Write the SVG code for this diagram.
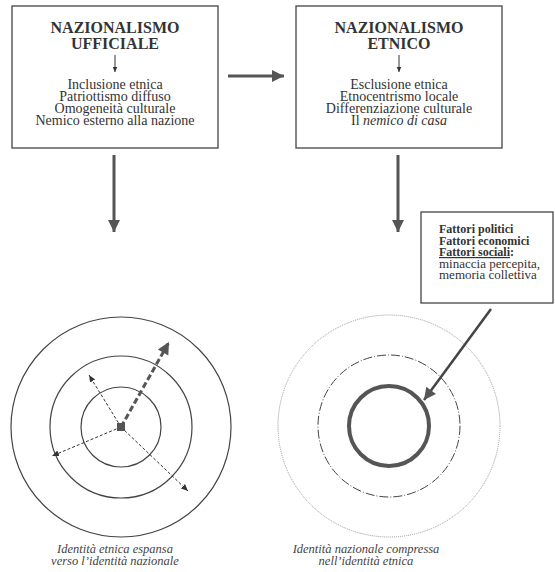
<svg xmlns="http://www.w3.org/2000/svg" width="555" height="572" viewBox="0 0 555 572">
<style>
.box{fill:#fff;stroke:#444;stroke-width:1.3}
.t{font-family:"Liberation Serif",serif;fill:#333;text-anchor:middle}
.title{font-size:16px;font-weight:bold}
.body{font-size:14px}
.f{font-family:"Liberation Serif",serif;fill:#333;font-size:12px}
.fr{font-family:"Liberation Serif",serif;fill:#333;font-size:13px}
.cap{font-family:"Liberation Serif",serif;fill:#444;font-size:12.5px;font-style:italic;text-anchor:middle}
.big{stroke:#555;stroke-width:3;fill:none}
.thin{stroke:#333;stroke-width:1;fill:none}
</style>
<defs>
<marker id="ah" markerUnits="userSpaceOnUse" markerWidth="14" markerHeight="14" viewBox="0 0 14 14" refX="13" refY="7" orient="auto"><path d="M1,1 L13,7 L1,13 Z" fill="#555"/></marker>
<marker id="sa" markerUnits="userSpaceOnUse" markerWidth="8" markerHeight="8" viewBox="0 0 8 8" refX="7" refY="4" orient="auto"><path d="M0,1 L7,4 L0,7 Z" fill="#333"/></marker>
<marker id="ta" markerUnits="userSpaceOnUse" markerWidth="6" markerHeight="6" viewBox="0 0 6 6" refX="5.5" refY="3" orient="auto"><path d="M0,0.5 L5.5,3 L0,5.5 Z" fill="#333"/></marker>
<marker id="da" markerUnits="userSpaceOnUse" markerWidth="14" markerHeight="14" viewBox="0 0 14 14" refX="13" refY="7" orient="auto"><path d="M1,1 L13,7 L1,13 Z" fill="#555"/></marker>
</defs>

<g id="node-ufficiale">
<rect class="box" x="12" y="6" width="206" height="142"/>
<text class="t title" x="115" y="33">NAZIONALISMO</text>
<text class="t title" x="115" y="49">UFFICIALE</text>
<line class="thin" x1="115" y1="55" x2="115" y2="72" marker-end="url(#ta)"/>
<text class="t body" x="115" y="89">Inclusione etnica</text>
<text class="t body" x="115" y="101">Patriottismo diffuso</text>
<text class="t body" x="115" y="113">Omogeneità culturale</text>
<text class="t body" x="115" y="125">Nemico esterno alla nazione</text>
</g>

<g id="node-etnico">
<rect class="box" x="296" y="6" width="206" height="142"/>
<text class="t title" x="399" y="33">NAZIONALISMO</text>
<text class="t title" x="399" y="49">ETNICO</text>
<line class="thin" x1="399" y1="55" x2="399" y2="72" marker-end="url(#ta)"/>
<text class="t body" x="399" y="89">Esclusione etnica</text>
<text class="t body" x="399" y="101">Etnocentrismo locale</text>
<text class="t body" x="399" y="113">Differenziazione culturale</text>
<text class="t body" x="399" y="125">Il <tspan font-style="italic">nemico di casa</tspan></text>
</g>

<g id="node-fattori">
<rect class="box" x="421" y="212" width="132" height="91"/>
<text class="f" x="439" y="233" font-weight="bold">Fattori politici</text>
<text class="f" x="439" y="244.5" font-weight="bold">Fattori economici</text>
<text class="f" x="439" y="256" font-weight="bold"><tspan text-decoration="underline">Fattori sociali</tspan>:</text>
<text class="fr" x="439" y="267.5">minaccia percepita,</text>
<text class="fr" x="439" y="279">memoria collettiva</text>
</g>

<g id="node-espansa">
<circle cx="121" cy="427" r="110" fill="none" stroke="#444" stroke-width="1.2"/>
<circle cx="121" cy="427" r="71" fill="none" stroke="#444" stroke-width="1.2"/>
<circle cx="121" cy="427" r="40" fill="none" stroke="#444" stroke-width="1.2"/>
<line x1="121" y1="427" x2="89" y2="375" stroke="#333" stroke-width="1" stroke-dasharray="3,2" marker-end="url(#sa)"/>
<line x1="121" y1="427" x2="52" y2="456" stroke="#333" stroke-width="1" stroke-dasharray="3,2" marker-end="url(#sa)"/>
<line x1="121" y1="427" x2="188" y2="491" stroke="#333" stroke-width="1" stroke-dasharray="3,2" marker-end="url(#sa)"/>
<line x1="121" y1="427" x2="169" y2="342" stroke="#555" stroke-width="3" stroke-dasharray="6,3" marker-end="url(#da)"/>
<rect x="117" y="423" width="8" height="8" fill="#555"/>
<text class="cap" x="115" y="553">Identità etnica espansa</text>
<text class="cap" x="115" y="565">verso l’identità nazionale</text>
</g>

<g id="node-compressa">
<circle cx="389" cy="426" r="111" fill="none" stroke="#999" stroke-width="1" stroke-dasharray="1,1"/>
<circle cx="389" cy="426" r="71" fill="none" stroke="#444" stroke-width="1" stroke-dasharray="9,2,1,2"/>
<circle cx="389" cy="426" r="40" fill="none" stroke="#555" stroke-width="4"/>
<text class="cap" x="366" y="553">Identità nazionale compressa</text>
<text class="cap" x="366" y="565">nell’identità etnica</text>
</g>

<g id="connectors">
<line class="big" x1="228" y1="76" x2="284" y2="76" marker-end="url(#ah)"/>
<line class="big" x1="114" y1="155" x2="114" y2="232" marker-end="url(#ah)"/>
<line class="big" x1="398" y1="155" x2="398" y2="232" marker-end="url(#ah)"/>
<line x1="491" y1="309" x2="424" y2="400" stroke="#444" stroke-width="2.5" marker-end="url(#ah)"/>
</g>
</svg>
